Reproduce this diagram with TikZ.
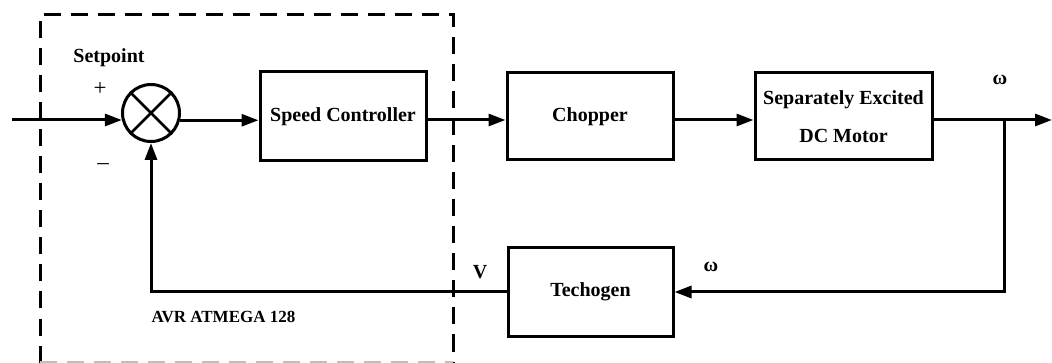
\documentclass[tikz,border=0pt]{standalone}
\usepackage{fontspec}
\setmainfont{Liberation Serif}
\usetikzlibrary{calc, arrows.meta, positioning}

\tikzset{
    blockbox/.style={draw=black, rectangle, minimum width=166pt, minimum height=88pt, inner sep=0pt, align=center},
    sign/.style={font=\fontsize{23}{24}\selectfont, inner sep=0pt},
    lbl/.style={inner sep=0pt}
}

\begin{document}
\begin{tikzpicture}[
    x=1pt, y=-1pt,
    >={Triangle[length=17pt, width=12pt]},
    line width=3pt,
    font=\fontsize{20}{24}\selectfont\bfseries
]
    \useasboundingbox (0,0) rectangle (1052,363);

    % Controller board (dashed frame)
    \draw[line width=3pt, dash pattern=on 17pt off 10pt] (40,362.5) -- (40,15) -- (453,15) -- (453,362.5);
    \draw[line width=3pt, black!25, dash pattern=on 17pt off 10pt] (40,362.5) -- (453,362.5);
    \node[lbl, anchor=west, font=\fontsize{17}{20}\selectfont\bfseries] (board) at (150,317) {AVR ATMEGA 128};

    % Summing junction
    \node[draw=black, circle, minimum size=57pt, inner sep=0pt] (sum) at (151,113) {};
    \draw[line width=2.6pt] (sum.45) -- (sum.225);
    \draw[line width=2.6pt] (sum.135) -- (sum.-45);
    \coordinate (in) at (12,120);
    \node[lbl] (setp) at (109,58) {Setpoint};
    \node[sign] (plus) at (100,89) {+};
    \node[sign] (minus) at (103,167) {\textendash};

    % Forward path blocks
    \node[blockbox, minimum height=89pt] (spd) at (343,116.5) {Speed Controller};
    \node[blockbox, minimum height=87pt] (chop) at (590,116.5) {Chopper};
    \node[blockbox, minimum width=177pt, minimum height=87pt] (motor) at (843.5,116.5) {Separately Excited\\[14pt]DC Motor};

    % Output and branch point
    \coordinate (br) at (1004,120);
    \coordinate (out) at (1052,120);
    \node[lbl] (wout) at (1000,80) {ω};

    % Feedback block
    \node[blockbox, minimum width=165pt] (tech) at (590.5,292) {Techogen};
    \node[lbl] (wfb) at (711,267) {ω};
    \node[lbl] (volt) at (480,272) {V};

    % Connectors
    \draw[->] (in) -- (in -| sum.194);
    \draw[->] (sum.-14) -- (sum.-14 -| spd.west);
    \draw[->] (spd.east |- br) -- (chop.west |- br);
    \draw[->] (chop.east |- br) -- (motor.west |- br);
    \draw[->] (motor.east |- br) -- (out);
    \draw[->] (br) |- (tech.east);
    \draw[->] (tech.west) -| (sum.south);

\end{tikzpicture}
\end{document}
